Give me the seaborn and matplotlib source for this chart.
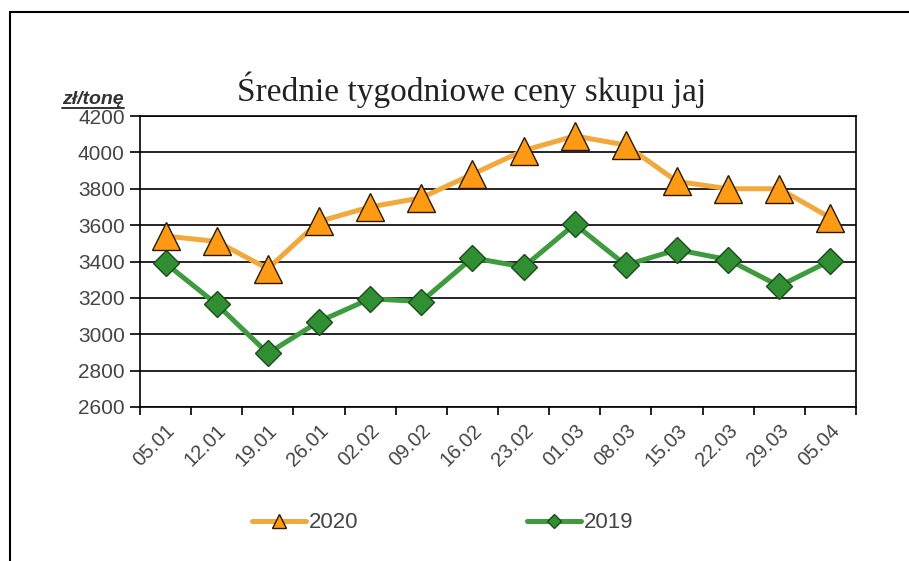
import matplotlib
matplotlib.use("Agg")
import matplotlib.pyplot as plt
import matplotlib.lines as mlines
import seaborn as sns
import pandas as pd
import numpy as np

weeks = ["05.01", "12.01", "19.01", "26.01", "02.02", "09.02", "16.02",
         "23.02", "01.03", "08.03", "15.03", "22.03", "29.03", "05.04"]
prices_2020 = [3540, 3510, 3360, 3620, 3700, 3750, 3880,
               4010, 4090, 4040, 3840, 3800, 3800, 3640]
prices_2019 = [3390, 3165, 2895, 3070, 3195, 3180, 3420,
               3370, 3605, 3380, 3465, 3410, 3265, 3405]
y_ticks = [2600, 2800, 3000, 3200, 3400, 3600, 3800, 4000, 4200]

df = pd.DataFrame({
    "week": weeks * 2,
    "price": prices_2020 + prices_2019,
    "year": ["2020"] * len(weeks) + ["2019"] * len(weeks),
})

sns.set_theme(style="white")
plt.rcParams["font.family"] = ["Liberation Sans", "DejaVu Sans"]

fig = plt.figure(figsize=(9.09, 5.61), dpi=100)
ax = fig.add_axes([140 / 909, 1 - 407 / 561, (856 - 140) / 909, (407 - 116) / 561])

orange_line = "#F2A83A"
orange_fill = "#FF9A14"
green_line = "#3E9B3E"
green_fill = "#2F8F32"

d20 = df[df.year == "2020"]
d19 = df[df.year == "2019"]
sns.lineplot(data=d20, x="week", y="price", ax=ax, color=orange_line,
             linewidth=3.6, marker="^", markersize=20,
             markerfacecolor=orange_fill, markeredgecolor="#2a1a05",
             markeredgewidth=1.0, zorder=4, sort=False)
sns.lineplot(data=d19, x="week", y="price", ax=ax, color=green_line,
             linewidth=3.6, marker="D", markersize=13.5,
             markerfacecolor=green_fill, markeredgecolor="#1c4a1c",
             markeredgewidth=1.0, zorder=3, sort=False)

ax.set_xlim(-0.5, len(weeks) - 0.5)
ax.set_ylim(2600, 4200)
ax.set_yticks(y_ticks)
ax.set_yticklabels([str(v) for v in y_ticks], fontsize=15, color="#454545")
ax.yaxis.grid(True, color="black", linewidth=1.2)
ax.set_axisbelow(True)

ax.set_xticks(np.arange(len(weeks)))
ax.set_xticklabels(weeks, rotation=45, ha="right", va="top",
                   rotation_mode="anchor", fontsize=14.5, color="#454545")
ax.set_xticks(np.arange(-0.5, len(weeks)), minor=True)
ax.tick_params(axis="x", which="major", length=0, pad=10)
ax.tick_params(axis="x", which="minor", length=6, width=1.2, color="black",
               direction="out", bottom=True)
ax.tick_params(axis="y", which="major", length=7, width=1.2, color="black",
               direction="out", left=True, pad=4)
ax.set_xlabel("")
ax.set_ylabel("")
for s in ax.spines.values():
    s.set_color("black")
    s.set_linewidth(1.2)
    s.set_visible(True)
if ax.get_legend():
    ax.get_legend().remove()

fig.text(472 / 909, 1 - 90 / 561, "Średnie tygodniowe ceny skupu jaj",
         ha="center", va="center", fontsize=24,
         family=["Liberation Serif", "DejaVu Serif"], color="#222222")
fig.text(62 / 909, 1 - 100 / 561, "zł/tonę", ha="left", va="center",
         fontsize=14, fontweight="bold", fontstyle="italic",
         color="#333333")
fig.add_artist(mlines.Line2D([62 / 909, 124 / 909],
                             [1 - 108 / 561, 1 - 108 / 561],
                             color="#333333", linewidth=1.4))

h20 = mlines.Line2D([], [], color=orange_line, linewidth=3.6, marker="^",
                    markersize=10, markerfacecolor=orange_fill,
                    markeredgecolor="#2a1a05")
h19 = mlines.Line2D([], [], color=green_line, linewidth=3.6, marker="D",
                    markersize=7, markerfacecolor=green_fill,
                    markeredgecolor="#1c4a1c")
fig.legend([h20, h19], ["2020", "2019"], loc="center",
           bbox_to_anchor=(443 / 909, 1 - 523 / 561), ncol=2, frameon=False,
           fontsize=16, handlelength=2.4, handletextpad=0.15,
           columnspacing=7.6, labelcolor="#454545")

# figure border (top and left)
fig.add_artist(mlines.Line2D([10 / 909, 10 / 909], [0, 1 - 12 / 561],
                             color="black", linewidth=1.5))
fig.add_artist(mlines.Line2D([10 / 909, 1], [1 - 12 / 561, 1 - 12 / 561],
                             color="black", linewidth=1.5))

fig.savefig("out.png", dpi=100, facecolor="white")
